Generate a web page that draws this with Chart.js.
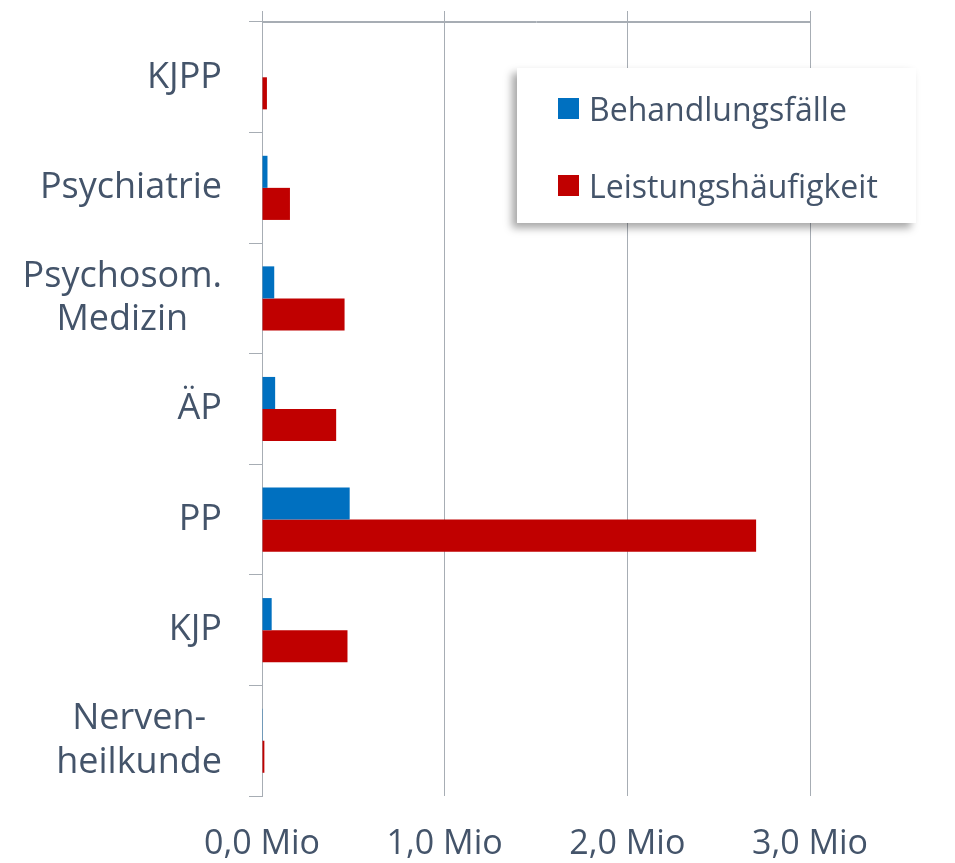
<!DOCTYPE html>
<html>
<head>
<meta charset="utf-8">
<script src="https://cdn.jsdelivr.net/npm/chart.js@4/dist/chart.umd.min.js"></script>
<style>
    body { margin: 0; background: #ffffff; }
    #wrap { position: relative; width: 955px; height: 863px; }
    #legendBox {
        position: absolute; left: 517px; top: 68px; width: 399px; height: 155px;
        background: #ffffff; box-shadow: -5px 5px 8px rgba(0, 0, 0, 0.35);
        font-family: 'Open Sans', sans-serif; font-size: 32px; color: #44546a;
    }
    .legend-item { position: absolute; left: 41px; display: flex; align-items: center; height: 40px; }
    .legend-swatch { width: 21px; height: 21px; margin-right: 10px; }
</style>
</head>
<body>
<div id="wrap">
    <canvas id="chart" width="955" height="863"></canvas>
    <div id="legendBox"></div>
</div>
<script>
// Chart data (values in Mio)
const categories = ['KJPP', 'Psychiatrie', ['Psychosom.', 'Medizin'], 'ÄP', 'PP', 'KJP', ['Nerven-', 'heilkunde']];
const behandlungsfaelle = [0.0, 0.03, 0.067, 0.072, 0.48, 0.053, 0.001];
const leistungshaeufigkeit = [0.027, 0.153, 0.452, 0.406, 2.705, 0.468, 0.013];
const seriesNames = ['Behandlungsfälle', 'Leistungshäufigkeit'];
const xTickLabels = ['0,0 Mio', '1,0 Mio', '2,0 Mio', '3,0 Mio'];

const textColor = '#44546a';
const gridColor = '#a7adb4';
const fontFamily = "'Open Sans', sans-serif";

// Two-line category labels are centred on their widest line (Chart.js would right-align each line)
const centeredLabels = {
    id: 'centeredLabels',
    afterDraw(chart) {
        const scale = chart.scales.y;
        const tickOpts = scale.options.ticks;
        const font = Chart.helpers.toFont(tickOpts.font);
        const ctx = chart.ctx;
        const right = scale.right - scale.options.grid.tickLength - tickOpts.padding;

        ctx.save();
        ctx.font = font.string;
        ctx.fillStyle = textColor;
        ctx.textAlign = 'center';
        ctx.textBaseline = 'middle';
        scale.ticks.forEach((tick, i) => {
            if (!Array.isArray(tick.label)) return;
            const widest = Math.max(...tick.label.map(line => ctx.measureText(line).width));
            const yMid = scale.getPixelForTick(i);
            tick.label.forEach((line, j) => {
                ctx.fillText(line, right - widest / 2, yMid + (j - (tick.label.length - 1) / 2) * font.lineHeight);
            });
        });
        ctx.restore();
    }
};

const chart = new Chart(document.getElementById('chart'), {
    type: 'bar',
    data: {
        labels: categories,
        datasets: [{
            label: seriesNames[0],
            data: behandlungsfaelle,
            backgroundColor: '#0070c0',
            categoryPercentage: 0.58,
            barPercentage: 1.0
        }, {
            label: seriesNames[1],
            data: leistungshaeufigkeit,
            backgroundColor: '#c00000',
            categoryPercentage: 0.58,
            barPercentage: 1.0
        }]
    },
    options: {
        indexAxis: 'y',
        responsive: false,
        animation: false,
        devicePixelRatio: 1,
        layout: { padding: { top: 11, right: 145 } },
        plugins: {
            legend: { display: false },
            tooltip: { enabled: false }
        },
        scales: {
            x: {
                position: 'bottom',
                min: 0,
                max: 3,
                ticks: {
                    stepSize: 1,
                    color: textColor,
                    padding: 28,
                    font: { family: fontFamily, size: 34 },
                    callback: (value, index) => xTickLabels[index]
                },
                grid: { color: gridColor, drawTicks: false },
                border: { display: false },
                afterFit: (scale) => { scale.height = 67; }
            },
            top: {
                type: 'linear',
                axis: 'x',
                position: 'top',
                min: 0,
                max: 3,
                ticks: { stepSize: 1, display: false },
                grid: { color: gridColor, drawOnChartArea: false, tickLength: 11 },
                border: { display: true, color: gridColor },
                afterFit: (scale) => { scale.height = 11; }
            },
            y: {
                offset: true,
                ticks: {
                    // multi-line labels are drawn by the centeredLabels plugin
                    color: (ctx) => Array.isArray(ctx.tick && ctx.tick.label) ? 'rgba(0,0,0,0)' : textColor,
                    padding: 27,
                    font: { family: fontFamily, size: 36, lineHeight: 1.2 }
                },
                grid: {
                    offset: true,
                    color: (ctx) => ctx.index === 0 ? gridColor : 'rgba(0,0,0,0)',
                    tickColor: gridColor,
                    tickLength: 13
                },
                border: { display: true, color: gridColor },
                afterFit: (scale) => {
                    scale.width = 262;
                    scale.paddingTop = 0;
                    scale.paddingBottom = 0;
                }
            }
        }
    },
    plugins: [centeredLabels]
});

// HTML legend built from the datasets
const legendBox = document.getElementById('legendBox');
legendBox.innerHTML = chart.data.datasets.map((ds, i) => `
    <div class="legend-item" style="top:${20 + i * 77}px">
        <div class="legend-swatch" style="background:${ds.backgroundColor}"></div>
        <span>${ds.label}</span>
    </div>
`).join('');
</script>
</body>
</html>
